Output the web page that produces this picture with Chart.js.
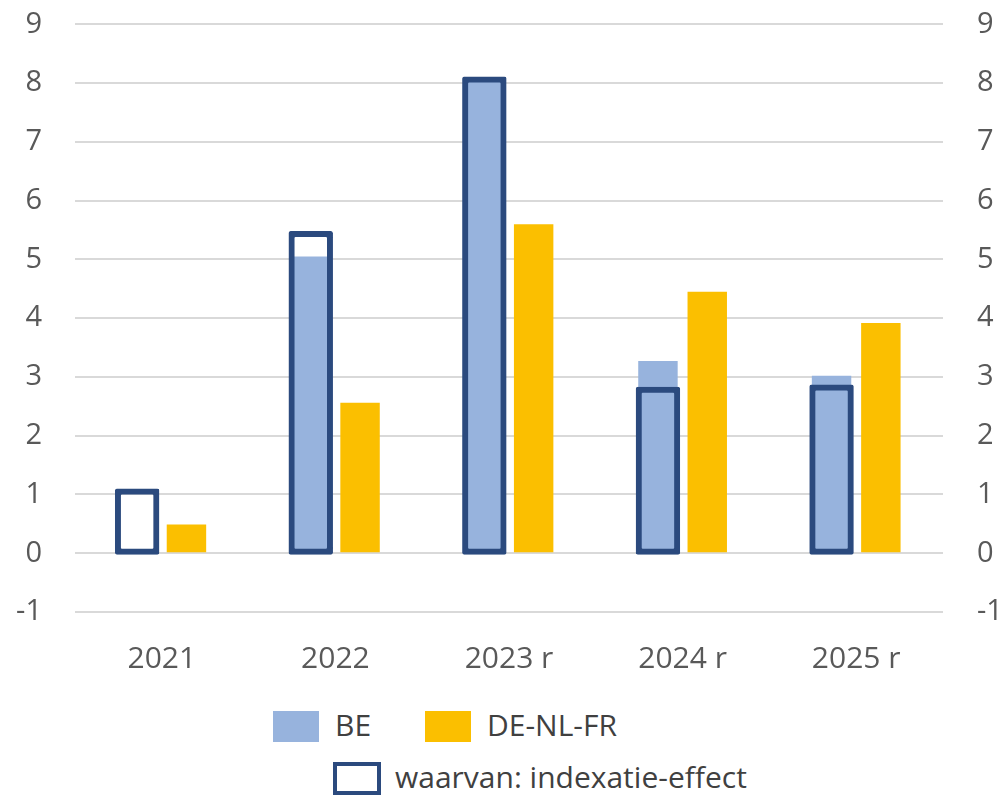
<!DOCTYPE html>
<html>
<head>
<meta charset="utf-8">
<script src="https://cdn.jsdelivr.net/npm/chart.js@4.4.1/dist/chart.umd.min.js"></script>
<style>
  html, body { margin: 0; padding: 0; background: #fff; }
  #wrap { position: relative; width: 1005px; height: 796px; overflow: hidden; font-family: "Open Sans", "Noto Sans", sans-serif; }
  #box { position: absolute; left: 0; top: -27px; width: 1005px; height: 727px; }
  .lg { position: absolute; font-size: 30px; color: #404040; line-height: 1; white-space: nowrap; }
  .sw { position: absolute; box-sizing: border-box; }
</style>
</head>
<body>
<div id="wrap">
  <div id="box"><canvas id="grafiek"></canvas></div>
  <div class="sw" style="left:273px;top:711px;width:46px;height:31px;background:#97b3dd"></div>
  <div class="lg" style="left:335px;top:710px">BE</div>
  <div class="sw" style="left:425px;top:711px;width:46px;height:31px;background:#fbbf00"></div>
  <div class="lg" style="left:487px;top:710px">DE-NL-FR</div>
  <div class="sw" style="left:333px;top:762px;width:48px;height:33px;border:4px solid #2b4a7e;background:#fff"></div>
  <div class="lg" style="left:395px;top:762px">waarvan: indexatie-effect</div>
</div>
<script>
const jaren = ['2021', '2022', '2023 r', '2024 r', '2025 r'];
const be = [0, 5.05, 8.05, 3.27, 3.02];
const deNlFr = [0.49, 2.56, 5.60, 4.45, 3.92];
const indexatie = [1.06, 5.44, 8.07, 2.79, 2.83];
const yTicks = [-1, 0, 1, 2, 3, 4, 5, 6, 7, 8, 9];

const tickFont = { family: '"Open Sans", "Noto Sans", sans-serif', size: 29 };
const grijs = '#595959';

new Chart(document.getElementById('grafiek').getContext('2d'), {
  type: 'bar',
  data: {
    labels: jaren,
    datasets: [{
      label: 'BE',
      data: be,
      backgroundColor: '#97b3dd',
      stack: 'a',
      inflateAmount: 0
    }, {
      label: 'DE-NL-FR',
      data: deNlFr,
      backgroundColor: '#fbbf00',
      stack: 'b',
      inflateAmount: 0
    }, {
      label: 'waarvan: indexatie-effect',
      data: indexatie,
      backgroundColor: 'rgba(0,0,0,0)',
      borderColor: '#2b4a7e',
      borderWidth: 1,
      inflateAmount: 2.5,
      borderRadius: 2,
      borderSkipped: false,
      stack: 'a',
      order: -1
    }]
  },
  options: {
    responsive: true,
    maintainAspectRatio: false,
    animation: false,
    categoryPercentage: 0.568,
    barPercentage: 0.8,
    layout: { padding: 0 },
    scales: {
      x: {
        stacked: true,
        grid: { display: false, drawTicks: false },
        border: { display: false },
        ticks: { color: grijs, font: { family: tickFont.family, size: 30 }, padding: 29, maxRotation: 0 },
        afterFit: function(s) { s.height = 88; }
      },
      y: {
        stacked: false,
        min: -1,
        max: 9,
        afterBuildTicks: function(s) { s.ticks = yTicks.map(v => ({ value: v })); },
        grid: { color: '#d9d9d9', lineWidth: 2, drawTicks: false },
        border: { display: false },
        ticks: { color: grijs, font: tickFont, padding: 33 },
        afterFit: function(s) { s.width = 75; }
      },
      y2: {
        position: 'right',
        min: -1,
        max: 9,
        afterBuildTicks: function(s) { s.ticks = yTicks.map(v => ({ value: v })); },
        grid: { display: false, drawTicks: false },
        border: { display: false },
        ticks: { color: grijs, font: tickFont, padding: 34 },
        afterFit: function(s) { s.width = 62; }
      }
    },
    plugins: {
      legend: { display: false },
      tooltip: { enabled: false }
    }
  }
});
</script>
</body>
</html>
